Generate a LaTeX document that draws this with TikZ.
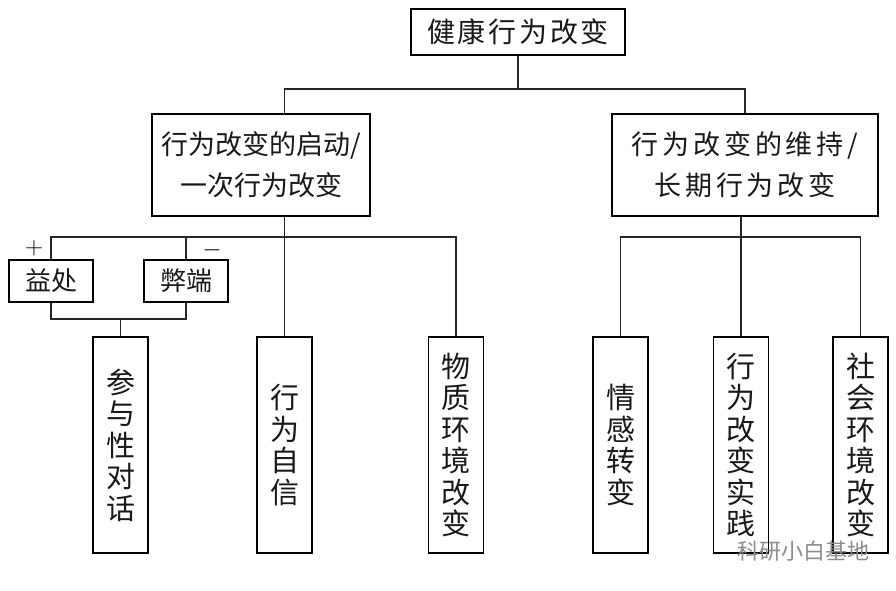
\documentclass[tikz,border=0pt]{standalone}
\usepackage{fontspec}
\newfontfamily\cjk{Noto Sans CJK SC}
\newfontfamily\cjkwide{Noto Sans CJK SC}[LetterSpace=14]
\newfontfamily\cjktitle{Noto Sans CJK SC}[LetterSpace=10]
\begin{document}
\begin{tikzpicture}[x=1pt,y=-1pt,
  box/.style={draw=black,line width=1.7pt,inner sep=0pt,align=center,text=black!90},
  vbox/.style={box,minimum width=55pt,minimum height=216pt,font=\cjk\fontsize{29}{31.5}\selectfont},
  conn/.style={draw=black!85,line width=1.3pt},
  sign/.style={inner sep=0pt,font=\fontsize{25}{25}\selectfont}
]
\useasboundingbox (0,0) rectangle (896,590);
\fill[white] (0,0) rectangle (896,590);

% top
\node[box,minimum width=214pt,minimum height=46pt,font=\cjktitle\fontsize{28}{30}\selectfont] (top) at (518,32) {健康行为改变};

% level 1
\node[box,minimum width=218pt,minimum height=102pt,font=\cjk\fontsize{27}{41}\selectfont] (L1) at (261,165) {行为改变的启动/\\一次行为改变};
\node[box,minimum width=266pt,minimum height=102pt,font=\cjkwide\fontsize{27}{41}\selectfont] (R1) at (745,165) {行为改变的维持/\\长期行为改变};

% small boxes
\node[box,minimum width=84pt,minimum height=42pt,font=\cjk\fontsize{26}{28}\selectfont] (yi) at (51,281) {益处};
\node[box,minimum width=84pt,minimum height=42pt,font=\cjk\fontsize{26}{28}\selectfont] (bi) at (186,281) {弊端};
\node[sign] (plus) at (34,248) {$+$};
\node[sign] (minus) at (212,250) {$-$};

% vertical boxes
\node[vbox] (canyu) at (120.5,445) {参\\与\\性\\对\\话};
\node[vbox] (zixin) at (284.5,445) {行\\为\\自\\信};
\node[vbox] (wuzhi) at (456,445) {物\\质\\环\\境\\改\\变};
\node[vbox] (qinggan) at (620.5,445) {情\\感\\转\\变};
\node[vbox] (shijian) at (741,445) {行\\为\\改\\变\\实\\践};
\node[vbox] (shehui) at (860.5,445) {社\\会\\环\\境\\改\\变};

% connectors top
\coordinate (hub) at (518,89);
\draw[conn] (top.south) -- (hub);
\draw[conn] (L1.north -| zixin.north) |- (hub) -| (R1.north);

% left branch
\coordinate (lb) at (0,237);
\draw[conn] (L1.south -| zixin.north) -- (zixin.north);
\draw[conn] (yi.north) |- (lb -| wuzhi.north) -- (wuzhi.north);
\draw[conn] (bi.north) -- (bi.north |- lb);
\coordinate (lj) at (0,319);
\draw[conn] (yi.south) |- (lj -| bi.south) -- (bi.south);
\draw[conn] (canyu.north) -- (canyu.north |- lj);

% right branch
\coordinate (rb) at (741,237);
\draw[conn] (R1.south -| shijian.north) -- (shijian.north);
\draw[conn] (qinggan.north) |- (rb) -| (shehui.north);

% watermark
\node[inner sep=0pt,text=black!45,font=\cjk\fontsize{22}{24}\selectfont] (wm) at (803,551) {科研小白基地};
\end{tikzpicture}
\end{document}
